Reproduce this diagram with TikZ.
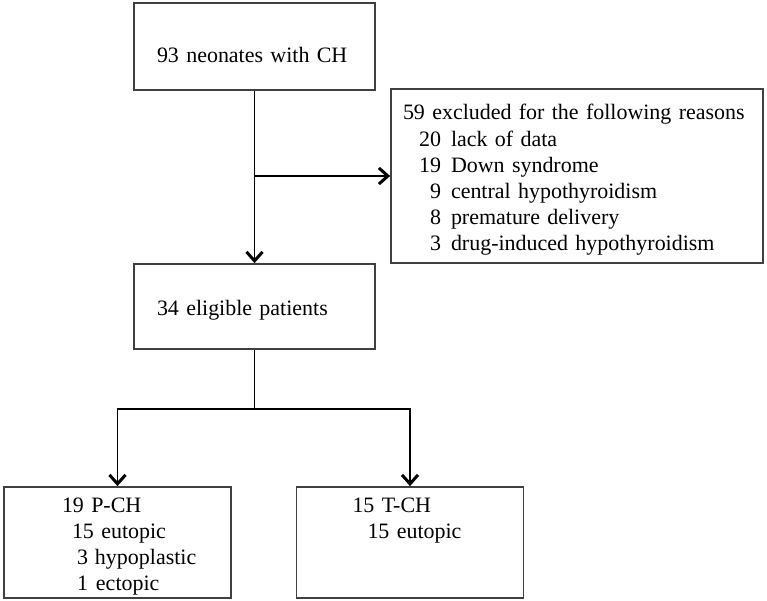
\documentclass[tikz,border=0pt]{standalone}
\usepackage{fontspec}
\setmainfont{Liberation Serif}
\usetikzlibrary{arrows.meta}

\newcommand{\tally}[2]{\makebox[0.76cm][r]{#1}\hspace{0.2cm}#2}

\begin{document}
\begin{tikzpicture}[>={Straight Barb[length=0.18cm,width=0.32cm,line width=0.06cm]},
  box/.style={rectangle, draw=black!75, line width=0.035cm, inner ysep=0pt,
    align=left, font=\fontsize{12.5pt}{14.8pt}\selectfont},
  flow/.style={line width=0.03cm}]
  \useasboundingbox (0,0) rectangle (15.34,-12.02);

  \node [box, inner xsep=0.46cm, text width=3.9cm, text height=1.2cm,
  text depth=0.54cm] (start) at (5.09,-0.93) {93 neonates with CH};
  \node [right of = start, node distance = 6.45cm, yshift = -2.59cm, box,
  inner xsep=0.24cm, text width=6.96cm, text height=0.62cm, text depth=2.86cm]
  (excl) {59 excluded for the following reasons\\
  \tally{20}{lack of data}\\
  \tally{19}{Down syndrome}\\
  \tally{9}{central hypothyroidism}\\
  \tally{8}{premature delivery}\\
  \tally{3}{drug-induced hypothyroidism}};
  \node [below of = start, node distance = 5.2cm, box, inner xsep=0.46cm,
  text width=3.9cm, text height=1.02cm, text depth=0.68cm] (elig)
  {34 eligible patients};
  \draw [->, flow] (start) -- (elig);
  \draw [->, flow] (start.south |- excl.west) -- (excl.west);

  \coordinate [below of = elig, node distance = 2.05cm] (split);
  \node [below of = elig, node distance = 4.72cm, xshift = -2.74cm, box,
  inner xsep=0pt, text width=4.54cm, text height=0.5cm, text depth=1.72cm]
  (pch) {\hspace*{1.16cm}19 P-CH\\
  \hspace*{1.36cm}15 eutopic\\
  \makebox[1.68cm][r]{3}\hspace{0.14cm}hypoplastic\\
  \makebox[1.68cm][r]{1}\hspace{0.16cm}ectopic};
  \node [right of = pch, node distance = 5.85cm, box, inner xsep=0pt,
  text width=4.54cm, text height=0.5cm, text depth=1.72cm] (tch)
  {\hspace*{1.12cm}15 T-CH\\
  \hspace*{1.42cm}15 eutopic};
  \draw [flow] (elig) -- (split);
  \draw [->, flow] (split) -| (pch);
  \draw [->, flow] (split) -| (tch);
\end{tikzpicture}
\end{document}
